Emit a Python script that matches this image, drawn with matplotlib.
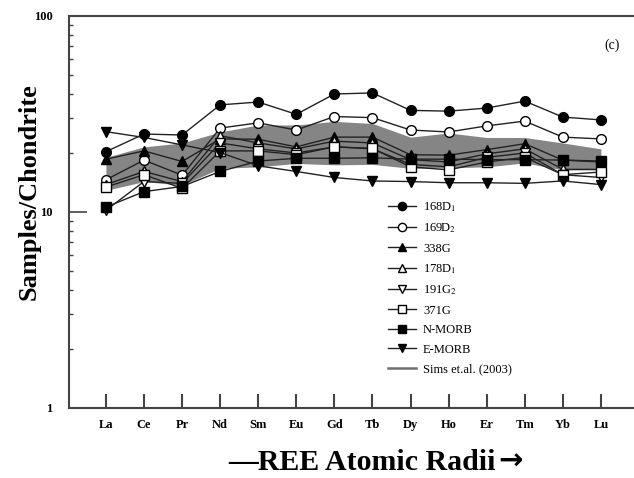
import numpy as np
import matplotlib
matplotlib.use('Agg')
import matplotlib.pyplot as plt
from matplotlib.ticker import FixedLocator, LogLocator, NullFormatter

plt.rcParams['font.family'] = ['Liberation Serif', 'DejaVu Serif']
plt.rcParams['mathtext.fontset'] = 'stix'

# rare earth elements along the x axis
ree = ['La', 'Ce', 'Pr', 'Nd', 'Sm', 'Eu', 'Gd', 'Tb', 'Dy', 'Ho', 'Er', 'Tm', 'Yb', 'Lu']

# chondrite normalised values
s168D1 = [20.3, 25.0, 24.7, 35.2, 36.4, 31.5, 40.0, 40.5, 33.0, 32.7, 33.9, 36.8, 30.5, 29.5]
s169D2 = [14.6, 18.4, 15.4, 26.8, 28.5, 26.2, 30.7, 30.3, 26.2, 25.6, 27.5, 29.1, 24.1, 23.6]
s338G = [18.6, 20.5, 18.1, 23.6, 23.5, 21.5, 24.1, 24.1, 19.6, 19.5, 20.8, 22.3, 18.4, 18.0]
s178D1 = [13.8, 16.1, 14.3, 24.5, 22.5, 21.0, 23.0, 22.5, 18.5, 18.0, 19.8, 21.0, 16.5, 16.5]
s191G2 = [10.2, 14.3, 14.0, 22.5, 21.0, 20.0, 21.5, 21.0, 17.5, 17.0, 19.0, 20.0, 15.5, 15.0]
s371G = [13.4, 15.5, 13.2, 20.5, 20.5, 19.6, 21.5, 21.1, 17.0, 16.4, 18.0, 19.0, 15.5, 16.0]
nmorb = [10.6, 12.7, 13.5, 16.1, 18.2, 18.8, 18.8, 18.9, 18.6, 18.6, 18.5, 18.5, 18.4, 18.2]
emorb = [25.7, 24.0, 22.0, 20.1, 17.2, 16.1, 15.0, 14.4, 14.3, 14.1, 14.1, 14.0, 14.4, 13.8]

# Sims et al. (2003) field
sims_hi = [19.0, 21.5, 22.5, 25.6, 27.8, 27.8, 29.0, 28.3, 24.1, 25.3, 24.0, 24.0, 22.5, 21.0]
sims_lo = [12.9, 14.3, 13.7, 16.7, 17.0, 17.7, 17.4, 17.5, 16.7, 16.8, 17.0, 17.8, 16.4, 16.4]

x = np.arange(len(ree))

fig = plt.figure(figsize=(6.34, 4.78), dpi=100)
ax = fig.add_axes([69/634, 70/478, 1 - 69/634, 392/478])

ax.fill_between(x, sims_lo, sims_hi, color='#858585', lw=0, zorder=1)
sims_line, = ax.plot([], [], color='#707070', lw=1.8)

series = [
    (s168D1, '168D$_1$', 'o', 'k'),
    (s169D2, '169D$_2$', 'o', 'white'),
    (s338G, '338G', '^', 'k'),
    (s178D1, '178D$_1$', '^', 'white'),
    (s191G2, '191G$_2$', 'v', 'white'),
    (s371G, '371G', 's', 'white'),
    (nmorb, 'N-MORB', 's', 'k'),
    (emorb, 'E-MORB', 'v', 'k'),
]
handles = []
for vals, lab, mk, fc in series:
    h, = ax.plot(x, vals, color='#222222', lw=1.0, marker=mk, ms=7,
                 mfc=fc, mec='k', mew=1.0, zorder=3, label=lab)
    handles.append(h)
sims_line.set_label('Sims et.al. (2003)')
handles.append(sims_line)

ax.set_yscale('log')
ax.set_ylim(1, 100)
ax.set_xlim(-0.97, 13.87)

ax.set_xticks(x)
ax.set_xticklabels(ree, fontweight='bold', fontsize=9)
ax.tick_params(axis='x', direction='in', length=10, width=1.5, pad=8, color='#444444')

ax.yaxis.set_major_locator(FixedLocator([1, 10, 100]))
ax.set_yticklabels(['1', '10', '100'], fontweight='bold', fontsize=9)
ax.yaxis.set_minor_locator(LogLocator(base=10, subs=np.arange(2, 10)))
ax.yaxis.set_minor_formatter(NullFormatter())
ax.tick_params(axis='y', which='major', direction='in', length=13, width=1.2, pad=12, color='#444444')
ax.tick_params(axis='y', which='minor', direction='in', length=3, width=1.0, color='#444444')

for side in ['left', 'top', 'bottom']:
    ax.spines[side].set_linewidth(1.5)
    ax.spines[side].set_color('#444444')
ax.spines['right'].set_visible(False)

ax.set_ylabel('Samples/Chondrite', fontsize=19, fontweight='bold')
ax.yaxis.set_label_coords(-0.051, 0.551)

# x axis title with a heavy arrow at the end
fig.text(496/634, 1 - 463/478, '\u2014REE Atomic Radii', fontsize=21.5,
         fontweight='bold', ha='right', va='center')
fig.text(498/634, 1 - 462/478, '\u2192', fontsize=21, fontweight='bold',
         family='DejaVu Sans', ha='left', va='center')
ax.text(0.961, 0.926, '(c)', transform=ax.transAxes, fontsize=10,
        ha='center', va='center')

ax.legend(handles=handles, loc='upper left', bbox_to_anchor=(388/634, 1 - 200/478),
          bbox_transform=fig.transFigure, frameon=False, fontsize=9,
          handlelength=2.2, handletextpad=0.6, labelspacing=0.6,
          borderpad=0, borderaxespad=0, markerscale=0.85)

fig.savefig('out.png', dpi=100)
